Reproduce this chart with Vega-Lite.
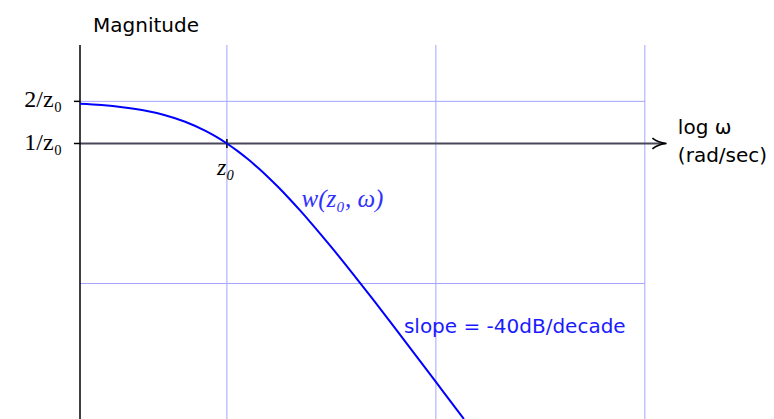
{
  "$schema": "https://vega.github.io/schema/vega-lite/v6.json",
  "width": 694,
  "height": 374,
  "autosize": {"type": "none"},
  "padding": {"left": 80, "top": 45, "right": 0, "bottom": 0},
  "background": "white",
  "config": {"view": {"stroke": null}},
  "datasets": {
    "grid": [
      {"x1": 0, "x2": 0, "y1": -1.968, "y2": 0.7036},
      {"x1": 1, "x2": 1, "y1": -1.968, "y2": 0.7036},
      {"x1": 2, "x2": 2, "y1": -1.968, "y2": 0.7036},
      {"x1": -0.703, "x2": 2, "y1": 0.30103, "y2": 0.30103},
      {"x1": -0.703, "x2": 2, "y1": -1, "y2": -1}
    ],
    "axes": [
      {"x1": -0.703, "x2": -0.703, "y1": -1.968, "y2": 0.7036},
      {"x1": -0.732, "x2": -0.703, "y1": 0.30103, "y2": 0.30103},
      {"x1": -0.732, "x2": -0.703, "y1": 0, "y2": 0},
      {"x1": 0, "x2": 0, "y1": -0.032, "y2": 0.032}
    ],
    "haxis": [
      {"x1": -0.703, "x2": 2.095, "y1": 0, "y2": 0}
    ],
    "arrow": [{"x": 2.07, "y": 0}],
    "curve": [
      {"x": -0.703, "y": 0.2840},
      {"x": -0.6, "y": 0.2745},
      {"x": -0.5, "y": 0.2596},
      {"x": -0.4, "y": 0.2371},
      {"x": -0.3, "y": 0.2037},
      {"x": -0.2, "y": 0.1555},
      {"x": -0.1, "y": 0.0886},
      {"x": -0.05, "y": 0.0471},
      {"x": 0, "y": 0},
      {"x": 0.05, "y": -0.0529},
      {"x": 0.1, "y": -0.1114},
      {"x": 0.15, "y": -0.1754},
      {"x": 0.2, "y": -0.2445},
      {"x": 0.25, "y": -0.3183},
      {"x": 0.3, "y": -0.3963},
      {"x": 0.35, "y": -0.4780},
      {"x": 0.4, "y": -0.5629},
      {"x": 0.5, "y": -0.7404},
      {"x": 0.6, "y": -0.9256},
      {"x": 0.7, "y": -1.1159},
      {"x": 0.8, "y": -1.3098},
      {"x": 0.9, "y": -1.5058},
      {"x": 1.0, "y": -1.7033},
      {"x": 1.1, "y": -1.9017},
      {"x": 1.134, "y": -1.968}
    ],
    "serifRight": [
      {"x": -0.789, "y": 0.262, "label": "2/z₀"},
      {"x": -0.789, "y": -0.05, "label": "1/z₀"}
    ],
    "serifCenter": [
      {"x": -0.005, "y": -0.225, "label": "z₀"}
    ],
    "sansLeft": [
      {"x": 2.158, "y": 0.066, "label": "log ω"},
      {"x": 2.158, "y": -0.132, "label": "(rad/sec)"}
    ],
    "title": [
      {"x": -0.387, "y": 0.799, "label": "Magnitude"}
    ],
    "blueMath": [
      {"x": 0.357, "y": -0.454, "label": "w(z₀, ω)"}
    ],
    "blueSans": [
      {"x": 0.847, "y": -1.356, "label": "slope = -40dB/decade"}
    ]
  },
  "encoding": {
    "x": {"field": "x1", "type": "quantitative", "scale": {"domain": [-0.703, 2.618], "nice": false, "zero": false}, "axis": null},
    "y": {"field": "y1", "type": "quantitative", "scale": {"domain": [-1.968, 0.7036], "nice": false, "zero": false}, "axis": null}
  },
  "layer": [
    {
      "data": {"name": "grid"},
      "mark": {"type": "rule", "color": "#a4a4ff", "strokeWidth": 1},
      "encoding": {"x2": {"field": "x2"}, "y2": {"field": "y2"}}
    },
    {
      "data": {"name": "haxis"},
      "mark": {"type": "rule", "color": "#484858", "strokeWidth": 2},
      "encoding": {"x2": {"field": "x2"}, "y2": {"field": "y2"}}
    },
    {
      "data": {"name": "axes"},
      "mark": {"type": "rule", "color": "#000000", "strokeWidth": 1.5},
      "encoding": {"x2": {"field": "x2"}, "y2": {"field": "y2"}}
    },
    {
      "data": {"name": "curve"},
      "mark": {"type": "line", "color": "#0000ff", "strokeWidth": 2, "interpolate": "monotone"},
      "encoding": {"x": {"field": "x", "type": "quantitative"}, "y": {"field": "y", "type": "quantitative"}}
    },
    {
      "data": {"name": "arrow"},
      "mark": {"type": "point", "shape": "M -1 -0.75 Q -0.2 -0.1 1 0 Q -0.2 0.1 -1 0.75", "filled": false, "stroke": "#000000", "strokeWidth": 1.6, "size": 200, "opacity": 1},
      "encoding": {"x": {"field": "x", "type": "quantitative"}, "y": {"field": "y", "type": "quantitative"}}
    },
    {
      "data": {"name": "serifRight"},
      "mark": {"type": "text", "font": "Liberation Serif", "fontSize": 24, "align": "right", "baseline": "alphabetic", "color": "#000000"},
      "encoding": {"x": {"field": "x", "type": "quantitative"}, "y": {"field": "y", "type": "quantitative"}, "text": {"field": "label"}}
    },
    {
      "data": {"name": "serifCenter"},
      "mark": {"type": "text", "font": "Liberation Serif", "fontSize": 24, "fontStyle": "italic", "align": "center", "baseline": "alphabetic", "color": "#000000"},
      "encoding": {"x": {"field": "x", "type": "quantitative"}, "y": {"field": "y", "type": "quantitative"}, "text": {"field": "label"}}
    },
    {
      "data": {"name": "sansLeft"},
      "mark": {"type": "text", "font": "DejaVu Sans", "fontSize": 20, "align": "left", "baseline": "alphabetic", "color": "#000000"},
      "encoding": {"x": {"field": "x", "type": "quantitative"}, "y": {"field": "y", "type": "quantitative"}, "text": {"field": "label"}}
    },
    {
      "data": {"name": "title"},
      "mark": {"type": "text", "font": "DejaVu Sans", "fontSize": 20, "align": "center", "baseline": "alphabetic", "color": "#000000"},
      "encoding": {"x": {"field": "x", "type": "quantitative"}, "y": {"field": "y", "type": "quantitative"}, "text": {"field": "label"}}
    },
    {
      "data": {"name": "blueMath"},
      "mark": {"type": "text", "font": "Liberation Serif", "fontSize": 25, "fontStyle": "italic", "align": "left", "baseline": "alphabetic", "color": "#3030ff"},
      "encoding": {"x": {"field": "x", "type": "quantitative"}, "y": {"field": "y", "type": "quantitative"}, "text": {"field": "label"}}
    },
    {
      "data": {"name": "blueSans"},
      "mark": {"type": "text", "font": "DejaVu Sans", "fontSize": 20, "align": "left", "baseline": "alphabetic", "color": "#1a1aff"},
      "encoding": {"x": {"field": "x", "type": "quantitative"}, "y": {"field": "y", "type": "quantitative"}, "text": {"field": "label"}}
    }
  ]
}
